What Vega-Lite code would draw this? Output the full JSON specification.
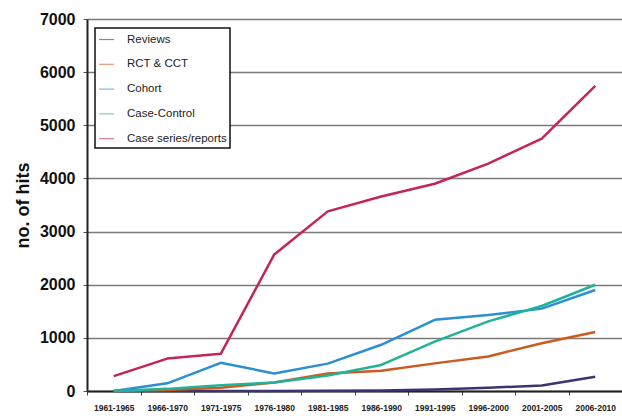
{
  "$schema": "https://vega.github.io/schema/vega-lite/v6.json",
  "width": 535,
  "height": 372,
  "autosize": "none",
  "padding": {"left": 87, "top": 19, "right": 0, "bottom": 25},
  "background": "white",
  "config": {
    "font": "Liberation Sans",
    "view": {"stroke": null}
  },
  "data": {
    "values": [
      {"period": "1961-1965", "series": "Reviews", "hits": 0},
      {"period": "1966-1970", "series": "Reviews", "hits": 0},
      {"period": "1971-1975", "series": "Reviews", "hits": 0},
      {"period": "1976-1980", "series": "Reviews", "hits": 0},
      {"period": "1981-1985", "series": "Reviews", "hits": 5},
      {"period": "1986-1990", "series": "Reviews", "hits": 10},
      {"period": "1991-1995", "series": "Reviews", "hits": 30},
      {"period": "1996-2000", "series": "Reviews", "hits": 60},
      {"period": "2001-2005", "series": "Reviews", "hits": 105},
      {"period": "2006-2010", "series": "Reviews", "hits": 270},
      {"period": "1961-1965", "series": "RCT & CCT", "hits": 0},
      {"period": "1966-1970", "series": "RCT & CCT", "hits": 20},
      {"period": "1971-1975", "series": "RCT & CCT", "hits": 60},
      {"period": "1976-1980", "series": "RCT & CCT", "hits": 160},
      {"period": "1981-1985", "series": "RCT & CCT", "hits": 330},
      {"period": "1986-1990", "series": "RCT & CCT", "hits": 380},
      {"period": "1991-1995", "series": "RCT & CCT", "hits": 520},
      {"period": "1996-2000", "series": "RCT & CCT", "hits": 650},
      {"period": "2001-2005", "series": "RCT & CCT", "hits": 900},
      {"period": "2006-2010", "series": "RCT & CCT", "hits": 1110},
      {"period": "1961-1965", "series": "Cohort", "hits": 0},
      {"period": "1966-1970", "series": "Cohort", "hits": 145},
      {"period": "1971-1975", "series": "Cohort", "hits": 530},
      {"period": "1976-1980", "series": "Cohort", "hits": 330},
      {"period": "1981-1985", "series": "Cohort", "hits": 515},
      {"period": "1986-1990", "series": "Cohort", "hits": 870},
      {"period": "1991-1995", "series": "Cohort", "hits": 1340},
      {"period": "1996-2000", "series": "Cohort", "hits": 1430},
      {"period": "2001-2005", "series": "Cohort", "hits": 1550},
      {"period": "2006-2010", "series": "Cohort", "hits": 1900},
      {"period": "1961-1965", "series": "Case-Control", "hits": 0},
      {"period": "1966-1970", "series": "Case-Control", "hits": 40},
      {"period": "1971-1975", "series": "Case-Control", "hits": 110},
      {"period": "1976-1980", "series": "Case-Control", "hits": 160},
      {"period": "1981-1985", "series": "Case-Control", "hits": 290},
      {"period": "1986-1990", "series": "Case-Control", "hits": 490},
      {"period": "1991-1995", "series": "Case-Control", "hits": 930},
      {"period": "1996-2000", "series": "Case-Control", "hits": 1310},
      {"period": "2001-2005", "series": "Case-Control", "hits": 1600},
      {"period": "2006-2010", "series": "Case-Control", "hits": 2000},
      {"period": "1961-1965", "series": "Case series/reports", "hits": 280},
      {"period": "1966-1970", "series": "Case series/reports", "hits": 610},
      {"period": "1971-1975", "series": "Case series/reports", "hits": 700},
      {"period": "1976-1980", "series": "Case series/reports", "hits": 2570},
      {"period": "1981-1985", "series": "Case series/reports", "hits": 3380},
      {"period": "1986-1990", "series": "Case series/reports", "hits": 3660},
      {"period": "1991-1995", "series": "Case series/reports", "hits": 3900},
      {"period": "1996-2000", "series": "Case series/reports", "hits": 4280},
      {"period": "2001-2005", "series": "Case series/reports", "hits": 4750},
      {"period": "2006-2010", "series": "Case series/reports", "hits": 5740}
    ]
  },
  "mark": {"type": "line", "strokeWidth": 2.5, "strokeJoin": "round"},
  "encoding": {
    "x": {
      "field": "period",
      "type": "ordinal",
      "sort": null,
      "bandPosition": 0.5,
      "scale": {"type": "band", "paddingInner": 0, "paddingOuter": 0},
      "axis": {
        "title": null,
        "labelAngle": 0,
        "labelFontSize": 8.5,
        "labelFontWeight": "bold",
        "labelColor": "#222",
        "labelPadding": 8,
        "tickBand": "extent",
        "tickSize": 4,
        "tickColor": "#444",
        "tickWidth": 1,
        "domainColor": "#222",
        "domainWidth": 2,
        "grid": false
      }
    },
    "y": {
      "field": "hits",
      "type": "quantitative",
      "scale": {"domain": [0, 7000], "nice": false},
      "axis": {
        "title": "no. of hits",
        "titleFontSize": 18,
        "titleFontWeight": "bold",
        "titleColor": "#111",
        "titlePadding": 7,
        "values": [0, 1000, 2000, 3000, 4000, 5000, 6000, 7000],
        "format": "d",
        "labelFontSize": 16,
        "labelFontWeight": "bold",
        "labelColor": "#111",
        "labelPadding": 8,
        "tickSize": 4,
        "tickColor": "#555",
        "domainColor": "#222",
        "domainWidth": 2,
        "grid": true,
        "gridColor": "#7a7a7a",
        "gridWidth": 1.5
      }
    },
    "color": {
      "field": "series",
      "type": "nominal",
      "scale": {
        "domain": ["Reviews", "RCT & CCT", "Cohort", "Case-Control", "Case series/reports"],
        "range": ["#3b3472", "#cc5a1e", "#2b8fd0", "#1fb39a", "#c4245a"]
      },
      "legend": {
        "title": null,
        "orient": "none",
        "legendX": 8,
        "legendY": 9,
        "strokeColor": "#111",
        "fillColor": "white",
        "padding": 3,
        "symbolType": "stroke",
        "symbolSize": 225,
        "symbolStrokeWidth": 1.2,
        "symbolOpacity": 0.6,
        "labelFontSize": 11.5,
        "labelColor": "#222",
        "labelOffset": 12,
        "rowPadding": 10.8,
        "encode": {"legend": {"update": {"strokeWidth": {"value": 1.5}}}}
      }
    }
  }
}
